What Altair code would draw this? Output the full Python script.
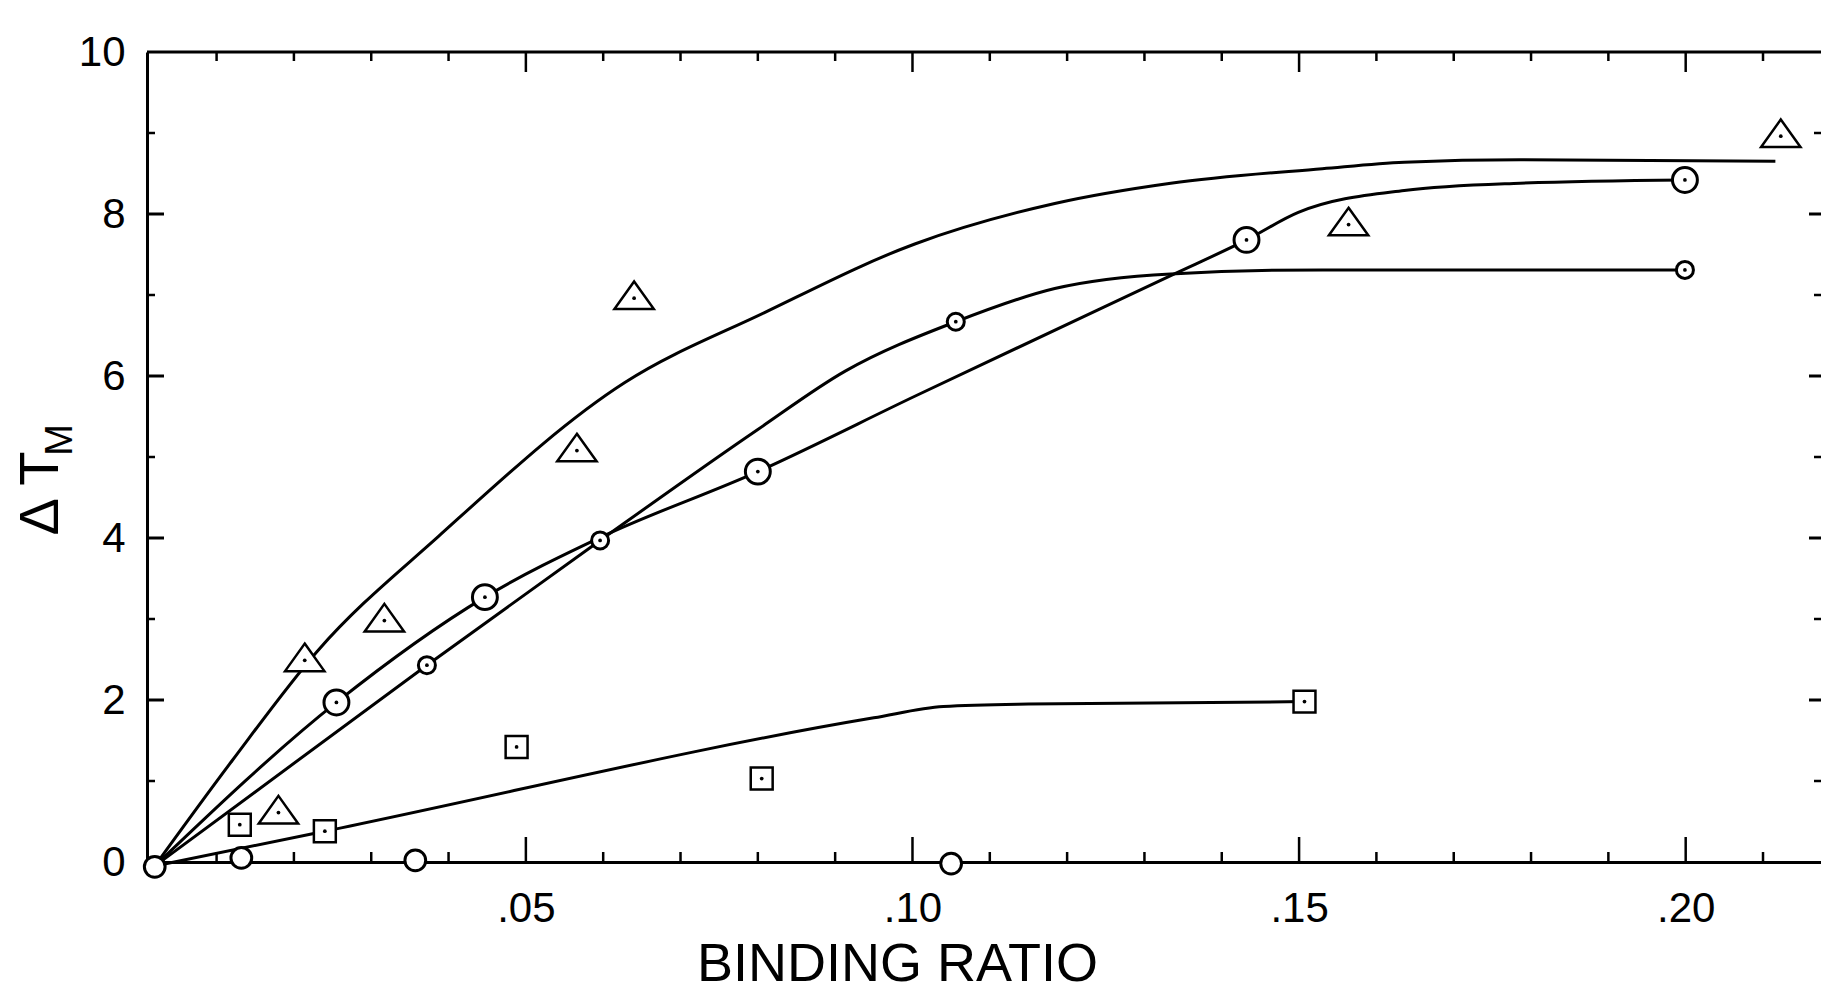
import altair as alt
import pandas as pd

# ---------------- data ----------------
# triangles
tri_x = [0.0180, 0.0214, 0.0317, 0.0566, 0.0640, 0.1564, 0.2123]
tri_y = [0.61, 2.49, 2.98, 5.08, 6.96, 7.87, 8.96]
# large dotted circles
big_x = [0.0255, 0.0447, 0.0800, 0.1432, 0.1999]
big_y = [1.97, 3.27, 4.82, 7.68, 8.42]
# small circles
sml_x = [0.0372, 0.0596, 0.1056, 0.1999]
sml_y = [2.43, 3.97, 6.67, 7.31]
# squares
sq_x = [0.0130, 0.0240, 0.0488, 0.0805, 0.1507]
sq_y = [0.46, 0.38, 1.42, 1.03, 1.98]
# circles lying on the baseline
base_x = [0.0020, 0.0132, 0.0357, 0.1050]
base_y = [-0.06, 0.05, 0.02, -0.02]

# drawn curves
curve_tri_x = [0.0020, 0.0120, 0.0230, 0.0387, 0.0628, 0.0808, 0.1003, 0.1184,
               0.1334, 0.1530, 0.1636, 0.1786, 0.2116]
curve_tri_y = [-0.05, 1.25, 2.60, 4.02, 5.92, 6.78, 7.63, 8.13,
               8.38, 8.56, 8.64, 8.67, 8.65]
curve_big_x = [0.0020, 0.0255, 0.0447, 0.0597, 0.0800, 0.1003, 0.1334, 0.1432,
               0.1499, 0.1636, 0.1786, 0.1999]
curve_big_y = [-0.05, 1.97, 3.27, 4.01, 4.82, 5.75, 7.24, 7.68,
               8.02, 8.29, 8.38, 8.42]
curve_sml_x = [0.0020, 0.0372, 0.0596, 0.0800, 0.0913, 0.1056, 0.1184, 0.1334,
               0.1530, 0.1999]
curve_sml_y = [-0.05, 2.43, 3.97, 5.34, 6.06, 6.67, 7.08, 7.26, 7.31, 7.31]
curve_sq_x = [0.0020, 0.0240, 0.0950, 0.1040, 0.1150, 0.1507]
curve_sq_y = [-0.05, 0.38, 1.78, 1.92, 1.95, 1.98]

# axis ticks
x_major = [0.05, 0.10, 0.15, 0.20]
x_minor = [0.01, 0.02, 0.03, 0.04, 0.06, 0.07, 0.08, 0.09, 0.11, 0.12, 0.13,
           0.14, 0.16, 0.17, 0.18, 0.19, 0.21]
y_major = [2, 4, 6, 8]
y_minor = [1, 3, 5, 7, 9]
y_labels = [0, 2, 4, 6, 8, 10]

# ---------------- layout ----------------
W, H = 1674, 810
FONT = "Liberation Sans"
xs = alt.Scale(domain=[0.001, 0.2175], nice=False, zero=False)
ys = alt.Scale(domain=[0, 10], nice=False, zero=False)

x_axis = alt.Axis(values=x_major, labelExpr="substring(format(datum.value, '.2f'), 1)",
                  labelFont=FONT, labelFontSize=42, labelColor="black", labelPadding=26,
                  ticks=False, grid=False, domainColor="black", domainWidth=3,
                  title="BINDING RATIO", titleFont=FONT, titleFontSize=54,
                  titleFontWeight="normal", titleColor="black", titleX=750, titleY=118,
                  titleBaseline="alphabetic", titleAlign="center")
y_axis = alt.Axis(values=y_labels, labelFont=FONT, labelFontSize=42, labelColor="black",
                  labelPadding=22, labelBaseline="middle", ticks=False, grid=False,
                  domainColor="black", domainWidth=3,
                  title="Δ T", titleFont=FONT, titleFontSize=56, titleFontWeight="normal",
                  titleColor="black", titleAngle=270, titleX=-90, titleY=441,
                  titleBaseline="alphabetic", titleAlign="center")

X = lambda f: alt.X(f, type="quantitative", scale=xs, axis=x_axis)
Y = lambda f: alt.Y(f, type="quantitative", scale=ys, axis=y_axis)

one = pd.DataFrame({"t": ["M"]})

# frame top line
top_line = alt.Chart(one).mark_rule(color="black", strokeWidth=3).encode(
    x=alt.value(0), x2=alt.value(W), y=alt.value(0))

def xticks(vals, y0, y1, sw=2.5):
    return alt.Chart(pd.DataFrame({"v": vals})).mark_rule(color="black", strokeWidth=sw).encode(
        x=X("v"), y=alt.value(y0), y2=alt.value(y1))

def yticks(vals, x0, x1, sw=2.5):
    return alt.Chart(pd.DataFrame({"v": vals})).mark_rule(color="black", strokeWidth=sw).encode(
        y=Y("v"), x=alt.value(x0), x2=alt.value(x1))

ticks = [
    xticks(x_major, H, H - 25), xticks(x_minor, H, H - 10),
    xticks(x_major, 0, 20), xticks(x_minor, 0, 9),
    yticks(y_major, 0, 17, 3), yticks(y_minor, 0, 8),
    yticks(y_major, W, W - 12, 3), yticks(y_minor, W, W - 7),
]

# curves
rows = []
for name, cx, cy in [("tri", curve_tri_x, curve_tri_y), ("big", curve_big_x, curve_big_y),
                     ("sml", curve_sml_x, curve_sml_y), ("sq", curve_sq_x, curve_sq_y)]:
    for i, (a, b) in enumerate(zip(cx, cy)):
        rows.append({"s": name, "i": i, "x": a, "y": b})
curves = alt.Chart(pd.DataFrame(rows)).mark_line(
    interpolate="monotone", color="black", strokeWidth=3).encode(
    x=X("x"), y=Y("y"), detail="s:N", order="i:Q")

TRI = "M0,-0.85L1,0.55L-1,0.55Z"

def pts(xv, yv, shape, size, sw):
    return alt.Chart(pd.DataFrame({"x": xv, "y": yv})).mark_point(
        shape=shape, size=size, filled=True, fill="white", stroke="black",
        strokeWidth=sw, opacity=1).encode(x=X("x"), y=Y("y"))

markers = [
    pts(base_x, base_y, "circle", 430, 3),
    pts(sq_x, sq_y, "square", 480, 2.5),
    pts(sml_x, sml_y, "circle", 290, 3),
    pts(big_x, big_y, "circle", 620, 3),
    pts(tri_x, tri_y, TRI, 1550, 2.5),
]
dots = alt.Chart(pd.DataFrame({"x": tri_x + big_x + sml_x + sq_x,
                               "y": tri_y + big_y + sml_y + sq_y})).mark_point(
    shape="circle", size=14, filled=True, color="black", opacity=1).encode(x=X("x"), y=Y("y"))

sub_m = alt.Chart(one).mark_text(angle=270, font=FONT, fontSize=38, color="black",
                                 baseline="alphabetic", align="center").encode(
    x=alt.value(-75), y=alt.value(388), text="t:N")

chart = alt.layer(top_line, *ticks, curves, *markers, dots, sub_m).properties(
    width=W, height=H, padding={"left": 139, "top": 44, "right": 0, "bottom": 132},
    autosize=alt.AutoSizeParams(type="none"), background="white"
).configure_view(stroke=None)

chart.save("out.html", embed_options={"renderer": "svg", "actions": False})
